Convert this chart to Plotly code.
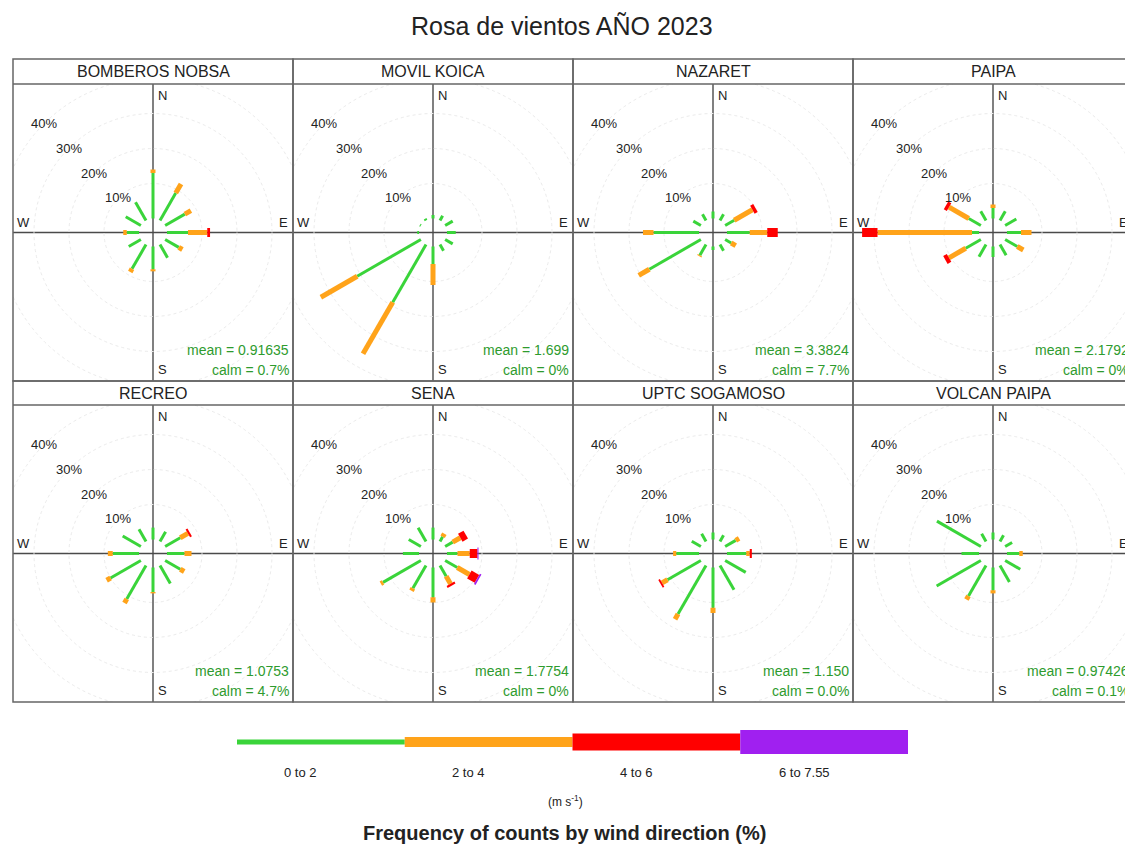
import numpy as np
import plotly.graph_objects as go

# ---------------------------------------------------------------- data
directions = [0, 30, 60, 90, 120, 150, 180, 210, 240, 270, 300, 330]
speed_bins = ["0 to 2", "2 to 4", "4 to 6", "6 to 7.55"]
bin_colors = ["#3ad43a", "#ffa31a", "#ff0000", "#a020f0"]
stations = ["BOMBEROS NOBSA", "MOVIL KOICA", "NAZARET", "PAIPA",
            "RECREO", "SENA", "UPTC SOGAMOSO", "VOLCAN PAIPA"]
mean_labels = ["mean = 0.91635", "mean = 1.699", "mean = 3.3824", "mean = 2.1792",
               "mean = 1.0753", "mean = 1.7754", "mean = 1.150", "mean = 0.97426"]
calm_labels = ["calm = 0.7%", "calm = 0%", "calm = 7.7%", "calm = 0%",
               "calm = 4.7%", "calm = 0%", "calm = 0.0%", "calm = 0.1%"]
grid_levels = [10, 20, 30, 40]
zero12 = [0] * 12

# frequency (%) per direction, one list per speed interval
nobsa_0_2 = [13, 9, 6.5, 6, 4.5, 4.3, 6.5, 8, 4, 3.5, 5, 6]
nobsa_2_4 = [1, 3, 2, 5.5, 1.2, 0, 0.6, 1, 0, 1, 0, 0]
nobsa_4_6 = [0, 0, 0, 0.8, 0, 0, 0, 0, 0, 0, 0, 0]

koica_0_2 = [1, 1.5, 2.5, 2.5, 2.5, 2, 5, 19, 21, 0.5, 0.3, 0.5]
koica_2_4 = [0, 0, 0, 0, 0, 0, 6, 17, 12, 0, 0, 0]

nazaret_0_2 = [2, 2, 3, 6.5, 2, 2, 1, 3.5, 17, 13, 2.5, 2]
nazaret_2_4 = [0, 0, 6, 5, 1.5, 0, 0, 0.3, 3.5, 3, 0, 0]
nazaret_4_6 = [0, 0, 1, 3, 0, 0, 0, 0, 0, 0, 0, 0]

paipa_0_2 = [3, 3, 3.7, 4, 4, 3.5, 3, 4, 5, 2, 4, 3]
paipa_2_4 = [1, 0, 0, 3, 2, 0, 0, 0, 5.5, 27, 6.5, 0]
paipa_4_6 = [0, 0, 0, 0, 0, 0, 0, 0, 1.2, 4.4, 1, 0]

recreo_0_2 = [3.4, 3.2, 5, 5, 5, 5.9, 7, 11, 10, 7.5, 6, 4]
recreo_2_4 = [0, 0, 2.5, 2, 1.3, 0, 0.4, 1.3, 1.3, 1.4, 0, 0]
recreo_4_6 = [0, 0, 0.6, 0, 0, 0, 0, 0, 0, 0, 0, 0]

sena_0_2 = [3.4, 1.5, 2.5, 3, 4, 3.5, 8.5, 7.5, 12.5, 4.6, 4, 4.5]
sena_2_4 = [0, 1, 2.5, 3.5, 4, 2.5, 1.5, 0.8, 0.7, 0, 0, 0]
sena_4_6 = [0, 0, 1.8, 2.2, 2.5, 0.6, 0, 0, 0, 0, 0, 0]
sena_6_8 = [0, 0, 0, 0.3, 0.5, 0, 0, 0, 0, 0, 0, 0]

uptc_0_2 = [2, 2, 3.5, 5.5, 6.8, 8, 11.5, 16, 11, 6.5, 3, 2.5]
uptc_2_4 = [0, 0, 1.1, 1, 0, 0, 1.5, 1.7, 1.8, 0.9, 0, 0]
uptc_4_6 = [0, 0, 0, 0.6, 0, 0, 0, 0, 0.5, 0, 0, 0]

volcan_0_2 = [2, 2, 2.3, 3.5, 5, 5.4, 6.5, 10, 14.6, 5, 14.5, 2.5]
volcan_2_4 = [0, 0, 0, 1, 0, 0, 0.9, 1.2, 0, 0, 0, 0]

station_bins = [
    [nobsa_0_2, nobsa_2_4, nobsa_4_6, zero12],
    [koica_0_2, koica_2_4, zero12, zero12],
    [nazaret_0_2, nazaret_2_4, nazaret_4_6, zero12],
    [paipa_0_2, paipa_2_4, paipa_4_6, zero12],
    [recreo_0_2, recreo_2_4, recreo_4_6, zero12],
    [sena_0_2, sena_2_4, sena_4_6, sena_6_8],
    [uptc_0_2, uptc_2_4, uptc_4_6, zero12],
    [volcan_0_2, volcan_2_4, zero12, zero12],
]

# ---------------------------------------------------------------- layout constants (pixels)
W, H = 1125, 850
PX_PER_PCT = 3.5          # radial scale of every rose
OFFSET = 4                # size of the central hole, in % units
PANEL_W = 280
LEFT0 = 13
STRIP_TOP = [59, 381]
PLOT_TOP = [84, 405]
PLOT_BOTTOM = [381, 702]
paddle_widths = [3, 5, 9, 12]
key_widths = [5, 10, 17, 24]
frame_col = "#666666"
axis_col = "#4a4a4a"
text_col = "#222222"
stat_col = "#2e9b2e"
FONT = "Liberation Sans, Arial, sans-serif"


def px(x):
    return x / W


def py(y):
    return 1 - y / H


def label(x, y, text, size, color=text_col, xanchor="center", yanchor="middle",
          xref="paper", yref="paper"):
    return dict(x=x, y=y, xref=xref, yref=yref, text=text, showarrow=False,
                xanchor=xanchor, yanchor=yanchor,
                font=dict(size=size, color=color, family=FONT))


fig = go.Figure()
shapes = []
annotations = []

theta = np.radians(directions)

for i, name in enumerate(stations):
    row, col = divmod(i, 4)
    n = i + 1
    xa = "x" if n == 1 else f"x{n}"
    ya = "y" if n == 1 else f"y{n}"
    left = LEFT0 + PANEL_W * col
    right = left + PANEL_W
    vis_right = min(right, W)
    cx = left + PANEL_W / 2
    top, bottom = PLOT_TOP[row], PLOT_BOTTOM[row]
    cy = (top + bottom) / 2
    half_h = (bottom - top) / 2

    fig.layout[f"xaxis{n}"] = dict(
        domain=[px(left), px(vis_right)],
        range=[-(PANEL_W / 2) / PX_PER_PCT, (vis_right - cx) / PX_PER_PCT],
        visible=False, fixedrange=True, anchor=ya)
    fig.layout[f"yaxis{n}"] = dict(
        domain=[py(bottom), py(top)],
        range=[-half_h / PX_PER_PCT, half_h / PX_PER_PCT],
        visible=False, fixedrange=True, anchor=xa)

    # paddles: stacked speed intervals along each direction
    cum = np.full(len(directions), float(OFFSET))
    for b, vals in enumerate(station_bins[i]):
        vals = np.asarray(vals, dtype=float)
        xs, ys = [], []
        for k in range(len(directions)):
            if vals[k] > 0:
                r0, r1 = cum[k], cum[k] + vals[k]
                xs += [r0 * np.sin(theta[k]), r1 * np.sin(theta[k]), None]
                ys += [r0 * np.cos(theta[k]), r1 * np.cos(theta[k]), None]
        cum = cum + vals
        if xs:
            fig.add_trace(go.Scatter(
                x=xs, y=ys, mode="lines", xaxis=xa, yaxis=ya,
                line=dict(color=bin_colors[b], width=paddle_widths[b]),
                showlegend=False, hoverinfo="skip"))

    # percentage grid circles and their labels
    for lv in grid_levels:
        r = lv + OFFSET
        shapes.append(dict(type="circle", xref=xa, yref=ya, x0=-r, x1=r, y0=-r, y1=r,
                           line=dict(color="#ebebeb", width=1, dash="dot"), layer="below"))
        annotations.append(label(-r * np.sin(np.pi / 4), r * np.cos(np.pi / 4), f"{lv}%", 13,
                                 xref=xa, yref=ya))

    # cross hair through the rose centre
    shapes.append(dict(type="line", xref=xa, yref=f"{ya} domain", x0=0, x1=0, y0=0, y1=1,
                       line=dict(color=axis_col, width=1.4), layer="below"))
    shapes.append(dict(type="line", xref=f"{xa} domain", yref=ya, x0=0, x1=1, y0=0, y1=0,
                       line=dict(color=axis_col, width=1.4), layer="below"))

    # panel frame and strip
    shapes.append(dict(type="rect", xref="paper", yref="paper",
                       x0=px(left), x1=px(right), y0=py(bottom), y1=py(STRIP_TOP[row]),
                       line=dict(color=frame_col, width=1.5)))
    shapes.append(dict(type="line", xref="paper", yref="paper",
                       x0=px(left), x1=px(right), y0=py(top), y1=py(top),
                       line=dict(color=frame_col, width=1.5)))
    annotations.append(label(px(cx), py((STRIP_TOP[row] + top) / 2), name, 16))

    # compass letters
    annotations += [
        label(px(cx + 3), py(top + 2), "N", 13, xanchor="left", yanchor="top"),
        label(px(cx + 3), py(bottom - 2), "S", 13, xanchor="left", yanchor="bottom"),
        label(px(left + 2), py(cy - 1), "W", 13, xanchor="left", yanchor="bottom"),
        label(px(right - 3), py(cy - 1), "E", 13, xanchor="right", yanchor="bottom"),
    ]

    # mean speed and calm percentage
    annotations += [
        label(px(right - 2), py(bottom - 31), mean_labels[i], 14, color=stat_col, xanchor="right"),
        label(px(right - 2), py(bottom - 11), calm_labels[i], 14, color=stat_col, xanchor="right"),
    ]

# ---------------------------------------------------------------- speed key
KEY_LEFT, KEY_RIGHT, KEY_Y = 237, 908, 742
fig.layout["xaxis9"] = dict(domain=[px(KEY_LEFT), px(KEY_RIGHT)], range=[0, len(speed_bins)],
                            visible=False, fixedrange=True, anchor="y9")
fig.layout["yaxis9"] = dict(domain=[py(KEY_Y + 20), py(KEY_Y - 20)], range=[-1, 1],
                            visible=False, fixedrange=True, anchor="x9")
for b, lab in enumerate(speed_bins):
    fig.add_trace(go.Scatter(x=[b, b + 1], y=[0, 0], mode="lines", xaxis="x9", yaxis="y9",
                             line=dict(color=bin_colors[b], width=key_widths[b]),
                             showlegend=False, hoverinfo="skip"))
    annotations.append(label(b + 0.38, py(772), lab, 13, xref="x9"))

annotations += [
    label(px(565), py(801), "(m s<sup>-1</sup>)", 12),
    label(px(564), py(833), "<b>Frequency of counts by wind direction (%)</b>", 20),
    label(px(562), py(26), "Rosa de vientos AÑO 2023", 25),
]

fig.update_layout(
    width=W, height=H,
    margin=dict(l=0, r=0, t=0, b=0),
    paper_bgcolor="white", plot_bgcolor="white",
    shapes=shapes, annotations=annotations,
    showlegend=False,
)

fig.write_html("out.html")
